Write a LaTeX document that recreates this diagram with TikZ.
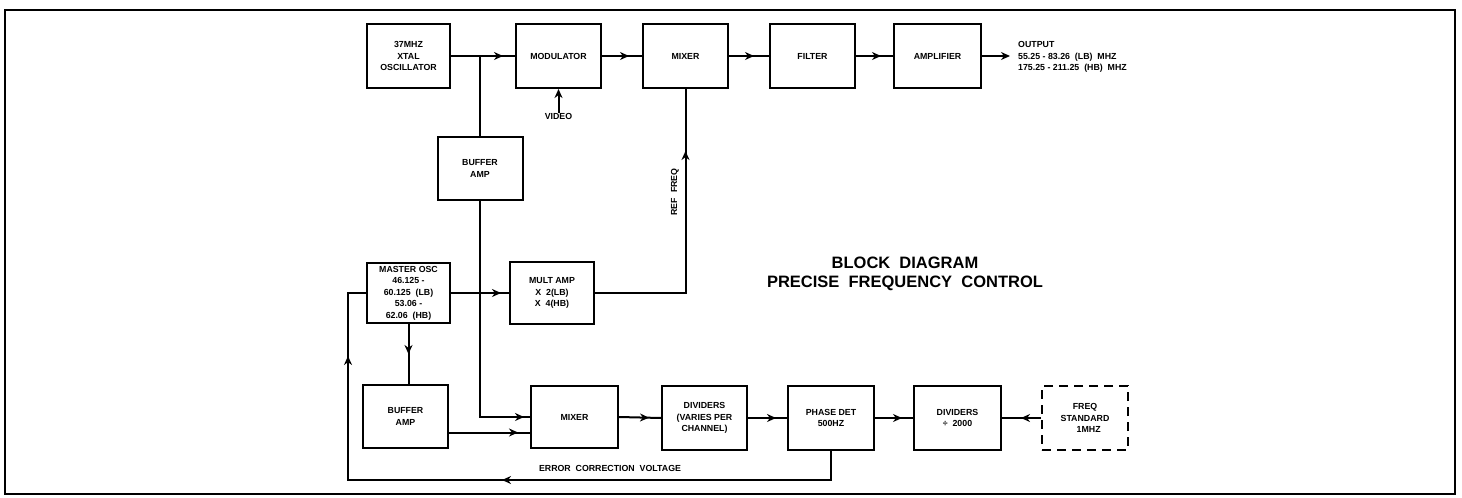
\documentclass[tikz,border=0pt]{standalone}
\usepackage{fontspec}
\setsansfont{Liberation Sans}
\usetikzlibrary{arrows.meta, positioning, decorations.markings}
\tikzset{
  every picture/.style={font=\sffamily\bfseries, >=Stealth},
  blk/.style={draw, line width=2pt, inner sep=1pt, minimum width=85pt, minimum height=64pt,
              align=center, font=\sffamily\bfseries\fontsize{8.8}{11.5}\selectfont},
  dashblk/.style={blk, dash pattern=on 9pt off 6pt},
  lbl/.style={inner sep=0pt, align=center, font=\sffamily\bfseries\fontsize{8.8}{11.5}\selectfont},
  conn/.style={line width=2pt},
  punta/.style={-{Stealth[length=9pt, width=8pt]}},
  marr/.style={postaction={decorate, decoration={markings,
               mark=at position #1 with {\arrow{Stealth[length=9pt, width=8pt]}}}}},
}
\begin{document}
\begin{tikzpicture}[x=1pt, y=-1pt]
  \useasboundingbox (0,0) rectangle (1462,498);
  \draw[line width=2.6pt] (5,10) rectangle (1455,494);
  \node[blk, minimum width=83pt] (XO) at (408.5,56) {37MHZ\\XTAL\\OSCILLATOR};
  \node[blk] (MOD) at (558.5,56) {MODULATOR};
  \node[blk] (MIX) at (685.5,56) {MIXER};
  \node[blk] (FIL) at (812.5,56) {FILTER};
  \node[blk, minimum width=87pt] (AMP) at (937.5,56) {AMPLIFIER};
  \coordinate (OUT) at (1010,56);
  \node[lbl, anchor=west, align=left] (OT) at (1018,57) {OUTPUT\\55.25 - 83.26 \ (LB) \ MHZ\\175.25 - 211.25 \ (HB) \ MHZ};
  \node[lbl] (VID) at (558.5,116) {VIDEO};
  \node[blk, minimum height=63pt] (BA1) at (480,168.5) {BUFFER\\AMP};
  \node[blk, minimum width=83pt, minimum height=60pt, inner sep=0pt] (MO) at (408.5,293)
       {MASTER OSC\\46.125 -\\60.125 \ (LB)\\53.06 -\\62.06 \ (HB)};
  \node[blk, minimum width=84pt, minimum height=62pt] (MA) at (552,293) {MULT AMP\\X \ 2(LB)\\X \ 4(HB)};
  \node[lbl, rotate=90] (RF) at (675,192) {REF \ FREQ};
  \node[blk, minimum height=63pt] (BA2) at (405.5,416.5) {BUFFER\\AMP};
  \node[blk, minimum width=87pt, minimum height=62pt] (MIX2) at (574.5,417) {MIXER};
  \node[blk] (DV) at (704.5,418) {DIVIDERS\\(VARIES PER\\CHANNEL)};
  \node[blk, minimum width=86pt] (PD) at (831,418) {PHASE DET\\500HZ};
  \node[blk, minimum width=87pt] (DV2) at (957.5,418) {DIVIDERS\\÷ \ 2000};
  \node[dashblk, minimum width=86pt] (FS) at (1085,418) {FREQ\\STANDARD\\\ \ \ 1MHZ};
  \node[lbl] (ECV) at (610,468) {ERROR \ CORRECTION \ VOLTAGE};
  \node[lbl, font=\sffamily\bfseries\fontsize{16.5}{19}\selectfont] (TIT) at (905,274)
       {BLOCK \ DIAGRAM\\PRECISE \ FREQUENCY \ CONTROL};
  \coordinate (J1) at (480,56);
  \coordinate (EC) at (348,480);
  \draw[conn, marr=-12pt] (XO.east) -- (MOD.west);
  \draw[conn] (J1) -- (BA1.north);
  \draw[conn, marr=-13pt] (MOD.east) -- (MIX.west);
  \draw[conn, marr=-15pt] (MIX.east) -- (FIL.west);
  \draw[conn, marr=-12pt] (FIL.east) -- (AMP.west);
  \draw[conn, punta] (AMP.east) -- (OUT);
  \draw[conn, punta] (VID.north) -- (MOD.south);
  \draw[conn, marr=-62pt] (MA.east) -| (MIX.south);
  \draw[conn, marr=-6pt] (BA1.south) |- (MIX2.west);
  \draw[conn, marr=-8pt] (MO.east) -- (MA.west);
  \draw[conn, marr=-30pt] (MO.south) -- (MO.south |- BA2.north);
  \draw[conn, marr=-12pt] ([yshift=-16pt]BA2.east) -- ([yshift=-16pt]BA2.east -| MIX2.west);
  \draw[conn, marr=-12pt] (MIX2.east) -- (DV.west);
  \draw[conn, marr=-11pt] (DV.east) -- (PD.west);
  \draw[conn, marr=-11pt] (PD.east) -- (DV2.west);
  \draw[conn, marr=-19pt] (FS.west) -- (DV2.east);
  \draw[conn, marr=358pt, marr=-81pt] (PD.south) |- (EC) |- (MO.west);
\end{tikzpicture}
\end{document}
